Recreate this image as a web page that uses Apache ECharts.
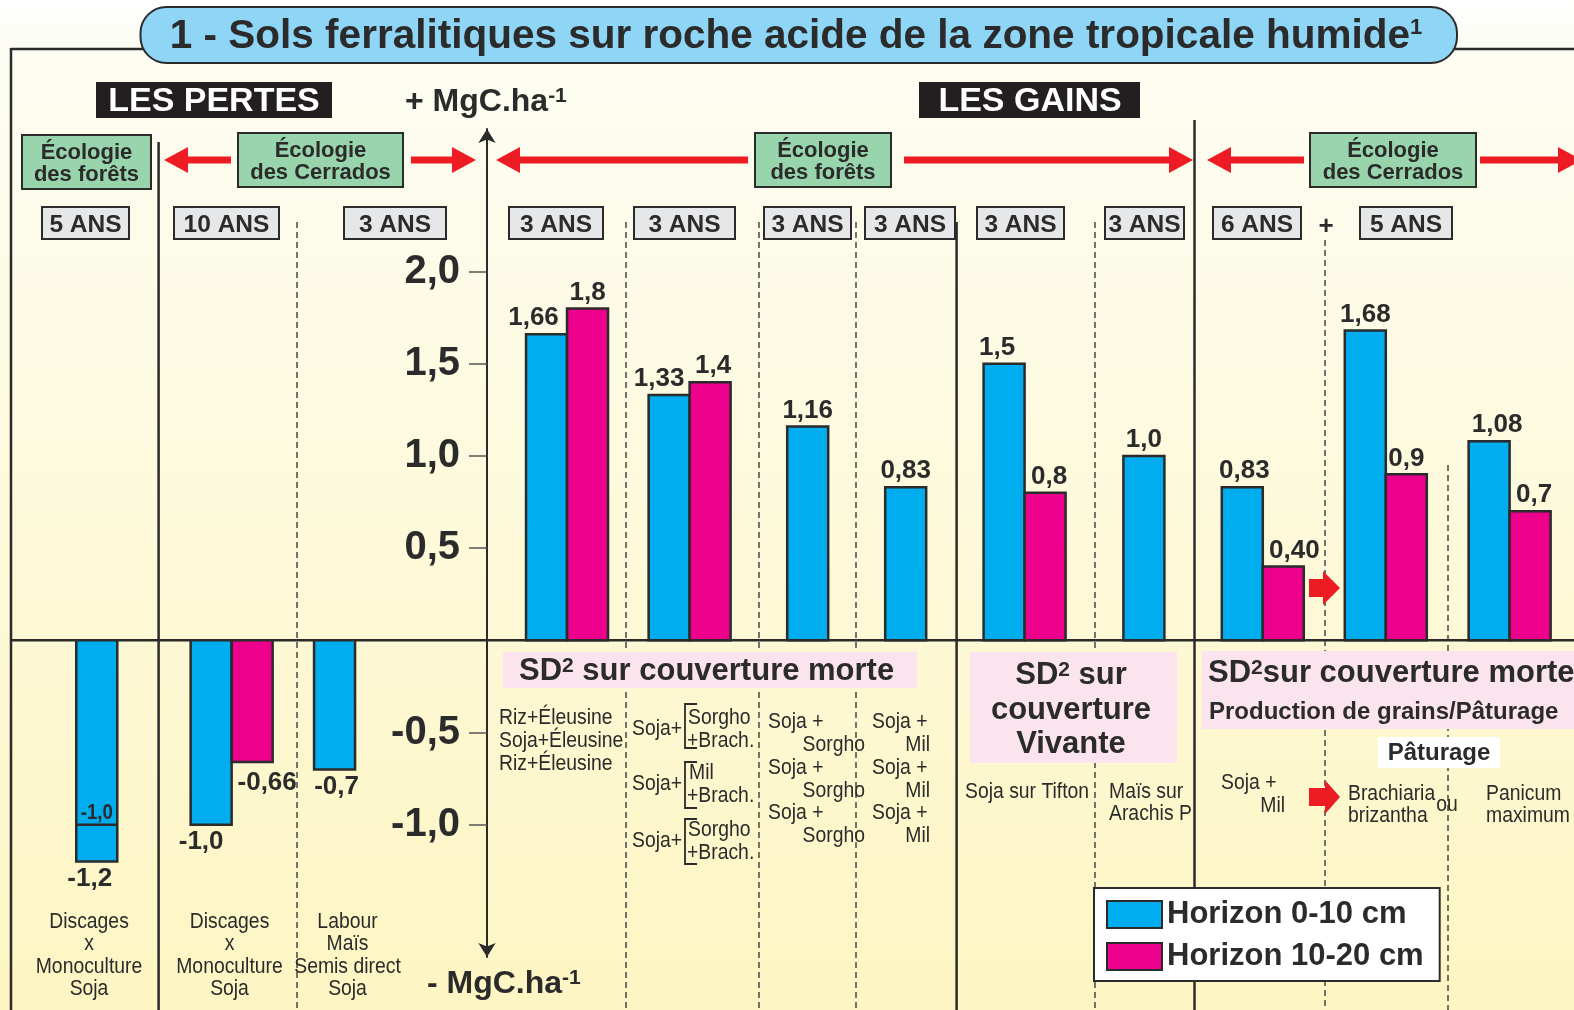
<!DOCTYPE html>
<html>
<head>
<meta charset="utf-8">
<script src="https://cdn.jsdelivr.net/npm/echarts@6/dist/echarts.min.js"></script>
<style>
html, body { margin: 0; padding: 0; background: #fff; }
#chart { width: 1574px; height: 1010px; }
</style>
</head>
<body>
<div id="chart"></div>
<script>
// --- data (MgC/ha, stock variation) ---
const treatments = ['Discages x Monoculture Soja (5 ans)', 'Discages x Monoculture Soja (10 ans)',
  'Labour Maïs Semis direct Soja', 'Riz+Éleusine', 'Soja+Sorgho/Mil+Brach.', 'Soja + Sorgho',
  'Soja + Mil', 'Soja sur Tifton', 'Maïs sur Arachis P', 'Soja + Mil (6 ans)',
  'Brachiaria brizantha', 'Panicum maximum']
const horizon1 = [-1.2, -1.0, -0.7, 1.66, 1.33, 1.16, 0.83, 1.5, 1.0, 0.83, 1.68, 1.08]
const horizon2 = [null, -0.66, null, 1.8, 1.4, null, null, 0.8, null, 0.40, 0.9, 0.7]
const labels1 = ['-1,2', '-1,0', '-0,7', '1,66', '1,33', '1,16', '0,83', '1,5', '1,0', '0,83', '1,68', '1,08']
const labels2 = ['', '-0,66', '', '1,8', '1,4', '', '', '0,8', '', '0,40', '0,9', '0,7']
const innerMark = [-1.0, null, null, null, null, null, null, null, null, null, null, null]
const yTicks = [-1, -0.5, 0.5, 1, 1.5, 2]

// --- layout: where each treatment sits on the hidden x axis (unit = one bar width) ---
const slotLeft = [1.86, 4.65, 7.66, 12.83, 15.82, 19.2, 21.59, 23.99, 27.4, 29.8, 32.8, 35.82]
// small sideways nudges of the value labels (px), as in the original drawing
const labelDx1 = [-7, -10, 2, -13, -10, 0, 0, -7, 0, 2, 0, 8]
const labelDx2 = [0, 15, 0, 0, 3, 0, 0, 4, 0, 11, 0, 4]
const BAR_PX = 41
const ZERO_Y = 640.3, PX_PER_UNIT = 184.4

const FF = '"Liberation Sans", Arial, Helvetica, sans-serif'
const INK = '#2b2b2b'
const BLUE = '#00adee', PINK = '#ec008c', RED = '#ed1c24'
const bold = s => 'bold ' + s + 'px ' + FF

function txt(x, y, text, size, o) {
  o = o || {}
  return {
    type: 'text', x: x, y: y, z: 60, silent: true, scaleX: o.sx || 1,
    style: {
      text: text, fill: o.fill || INK, font: (o.light ? '' : 'bold ') + size + 'px ' + FF,
      align: o.align || 'center', verticalAlign: o.va || 'middle', lineHeight: o.lh,
      rich: o.rich
    }
  }
}
function nar(x, y, text, align, lh) {
  return txt(x, y, text, 22, {light: true, sx: 0.88, align: align || 'center', lh: lh || 22.4})
}
function box(x1, y1, x2, y2, fill, stroke, r) {
  return {
    type: 'rect', z: 55, silent: true,
    shape: {x: x1, y: y1, width: x2 - x1, height: y2 - y1, r: r || 0},
    style: {fill: fill, stroke: stroke || null, lineWidth: stroke ? 2 : 0}
  }
}
function vline(x, y1, y2, dashed) {
  return {
    type: 'line', z: 5, silent: true, shape: {x1: x, y1: y1, x2: x, y2: y2},
    style: dashed ? {stroke: '#3a3a3a', lineWidth: 1.4, lineDash: [6, 4]} : {stroke: INK, lineWidth: 2.5}
  }
}
function arrow(tail, tip, y) {
  const d = tip > tail ? 1 : -1, hl = 24, sh = 3.5, hh = 13
  const b = tip - d * hl
  return {
    type: 'polygon', z: 55, silent: true,
    shape: {points: [[tail, y - sh], [b, y - sh], [b, y - hh], [tip, y], [b, y + hh], [b, y + sh], [tail, y + sh]]},
    style: {fill: RED}
  }
}
function block(x0, xh, x1, cy) {
  return {
    type: 'polygon', z: 55, silent: true,
    shape: {points: [[x0, cy - 9], [xh, cy - 9], [xh, cy - 17], [x1, cy], [xh, cy + 17], [xh, cy + 9], [x0, cy + 9]]},
    style: {fill: RED}
  }
}
function bracket(top, bottom) {
  return {
    type: 'polyline', z: 60, silent: true,
    shape: {points: [[697, top], [685, top], [685, bottom], [697, bottom]]},
    style: {stroke: INK, lineWidth: 1.8, fill: null}
  }
}
const supRich = function (size, supSize) {
  return {
    a: {fontSize: size, fontWeight: 'bold', fontFamily: FF, color: INK},
    s: {fontSize: supSize, fontWeight: 'bold', fontFamily: FF, color: INK, verticalAlign: 'top'}
  }
}

function barSeries(name, values, labels, dx, color, shift) {
  return {
    type: 'custom', name: name, xAxisIndex: 0, yAxisIndex: 0, z: 10,
    itemStyle: {color: color, borderColor: INK, borderWidth: 2},
    data: values.map((v, i) => [slotLeft[i] + shift, v == null ? 0 : v]),
    renderItem: function (params, api) {
      const i = params.dataIndex
      const v = values[i]
      if (v == null) return null
      const x0 = api.value(0)
      const a = api.coord([x0, 0]), b = api.coord([x0 + 1, v])
      const top = Math.min(a[1], b[1]), cx = (a[0] + b[0]) / 2
      const kids = [{
        type: 'rect',
        shape: {x: a[0], y: top, width: b[0] - a[0], height: Math.abs(b[1] - a[1])},
        style: {fill: color, stroke: INK, lineWidth: 2.5}
      }, {
        type: 'text',
        style: {
          text: labels[i], x: cx + dx[i], y: v >= 0 ? b[1] - 3 : b[1] + (dx[i] > 10 ? 8 : 4), align: 'center',
          verticalAlign: v >= 0 ? 'bottom' : 'top', font: bold(26), fill: INK
        }
      }]
      if (shift === 0 && innerMark[i] != null) {
        const m = api.coord([x0, innerMark[i]])
        kids.push({type: 'line', shape: {x1: a[0], y1: m[1], x2: b[0], y2: m[1]}, style: {stroke: INK, lineWidth: 2.5}})
        kids.push({
          type: 'text', x: cx, y: m[1] - 1, scaleX: 0.85,
          style: {text: labels1[1], align: 'center', verticalAlign: 'bottom', font: bold(22), fill: INK}
        })
      }
      return {type: 'group', children: kids}
    }
  }
}

const graphics = [
  // frame
  {type: 'line', z: 5, silent: true, shape: {x1: 11, y1: 49, x2: 1574, y2: 49}, style: {stroke: INK, lineWidth: 2.5}},
  vline(11, 48, 1010),
  {type: 'line', z: 8, silent: true, shape: {x1: 11, y1: ZERO_Y, x2: 1574, y2: ZERO_Y}, style: {stroke: INK, lineWidth: 2.5}},
  // column separators
  vline(158.6, 142, 1010), vline(956.6, 222, 1010), vline(1194.5, 120, 1010),
  vline(297, 222, 1010, true), vline(626, 222, 1010, true), vline(759, 222, 1010, true),
  vline(856, 222, 1010, true), vline(1095, 222, 1010, true), vline(1325, 240, 1010, true),
  vline(1448, 465, 1010, true),
  // title
  box(140.5, 7, 1457, 63, '#8ed5f6', INK, 26),
  txt(796, 37, '{a|1 - Sols ferralitiques sur roche acide de la zone tropicale humide}{s|1}', 40, {rich: supRich(40.5, 22)}),
  // headers
  box(96, 82, 332, 118, '#231f20'), txt(214, 101.5, 'LES PERTES', 34, {fill: '#fff'}),
  box(919, 82, 1140, 118, '#231f20'), txt(1030, 101.5, 'LES GAINS', 34, {fill: '#fff'}),
  txt(405, 102, '{a|+ MgC.ha}{s|-1}', 32, {align: 'left', rich: supRich(32, 21)}),
  txt(427, 984, '{a|- MgC.ha}{s|-1}', 32, {align: 'left', rich: supRich(32, 21)}),
  // ecology boxes and arrows
  box(22, 135, 151, 189, '#98d4ac', INK), txt(86.5, 164, 'Écologie\ndes forêts', 22, {lh: 22.5}),
  box(238, 133, 403, 187, '#98d4ac', INK), txt(320.5, 162, 'Écologie\ndes Cerrados', 22, {lh: 22.5}),
  box(755, 133, 891, 187, '#98d4ac', INK), txt(823, 162, 'Écologie\ndes forêts', 22, {lh: 22.5}),
  box(1310, 133, 1476, 187, '#98d4ac', INK), txt(1393, 162, 'Écologie\ndes Cerrados', 22, {lh: 22.5}),
  arrow(231, 164, 160), arrow(411, 476, 160), arrow(748, 496, 160),
  arrow(904, 1193, 160), arrow(1304, 1207, 160), arrow(1480, 1582, 160),
  txt(1326, 227, '+', 26)
]
// duration boxes
;[[42, 129, '5 ANS'], [174, 279, '10 ANS'], [344, 446, '3 ANS'], [509, 603, '3 ANS'], [634, 735, '3 ANS'],
  [764, 851, '3 ANS'], [865, 955, '3 ANS'], [977, 1064, '3 ANS'], [1105, 1184, '3 ANS'],
  [1213, 1301, '6 ANS'], [1360, 1452, '5 ANS']].forEach(b => {
  graphics.push(box(b[0], 207, b[1], 239, '#e6e7e9', INK))
  graphics.push(txt((b[0] + b[1]) / 2, 225, b[2], 24.5))
})
// treatment texts
graphics.push(
  nar(89, 955.5, 'Discages\nx\nMonoculture\nSoja'),
  nar(229.5, 955.5, 'Discages\nx\nMonoculture\nSoja'),
  nar(347.5, 955.5, 'Labour\nMaïs\nSemis direct\nSoja'),
  box(503, 652, 917, 688, '#fce4ef'),
  txt(519, 671.5, '{a|SD}{s|2}{a| sur couverture morte}', 31, {align: 'left', rich: supRich(31, 21)}),
  box(970, 652, 1177, 763, '#fce4ef'),
  txt(1071, 675, '{a|SD}{s|2}{a| sur}', 31, {rich: supRich(31, 21)}),
  txt(1071, 710, 'couverture', 31), txt(1071, 744, 'Vivante', 31),
  box(1202, 651, 1574, 729, '#fce4ef'),
  txt(1208, 673, '{a|SD}{s|2}{a|sur couverture morte}', 31, {align: 'left', rich: supRich(31, 21)}),
  txt(1209, 712, 'Production de grains/Pâturage', 24, {align: 'left'}),
  box(1378, 737, 1500, 768, '#ffffff'), txt(1439, 753, 'Pâturage', 24),
  nar(499, 741, 'Riz+Éleusine\nSoja+Éleusine\nRiz+Éleusine', 'left', 23),
  nar(632, 729, 'Soja+', 'left'), nar(688, 718, 'Sorgho', 'left'), nar(687, 741, '+Brach.', 'left'), bracket(704, 748),
  nar(632, 784, 'Soja+', 'left'), nar(689, 773, 'Mil', 'left'), nar(687, 796, '+Brach.', 'left'), bracket(762, 808),
  nar(632, 841, 'Soja+', 'left'), nar(688, 830, 'Sorgho', 'left'), nar(687, 853, '+Brach.', 'left'), bracket(819, 864),
  nar(965, 792, 'Soja sur Tifton', 'left'),
  nar(1109, 803, 'Maïs sur\nArachis P', 'left'),
  nar(1221, 783, 'Soja +', 'left'), nar(1285, 806, 'Mil', 'right'),
  block(1309, 1325, 1340, 797), block(1309, 1323, 1340, 588),
  nar(1348, 805, 'Brachiaria\nbrizantha', 'left'),
  nar(1447, 805, 'ou', 'center'),
  nar(1486, 805, 'Panicum\nmaximum', 'left')
)
for (let k = 0; k < 3; k++) {
  graphics.push(nar(768, 722 + 45.5 * k, 'Soja +', 'left'), nar(865, 745 + 45.5 * k, 'Sorgho', 'right'))
  graphics.push(nar(872, 722 + 45.5 * k, 'Soja +', 'left'), nar(930, 745 + 45.5 * k, 'Mil', 'right'))
}

const chart = echarts.init(document.getElementById('chart'), null, {renderer: 'canvas'})
chart.setOption({
  animation: false,
  backgroundColor: new echarts.graphic.LinearGradient(0, 0, 0, 1, [
    {offset: 0, color: '#ffffff'}, {offset: 0.05, color: '#fdfdf3'},
    {offset: 0.55, color: '#fdf9d9'}, {offset: 1, color: '#fdf5c2'}
  ]),
  grid: [
    {left: 0, right: 0, top: 0, bottom: 0},
    {left: 487, width: 1, top: 129, bottom: 53}
  ],
  xAxis: [
    {gridIndex: 0, type: 'value', min: 0, max: 1574 / BAR_PX, show: false},
    {gridIndex: 1, type: 'value', min: 0, max: 1, show: false}
  ],
  yAxis: [
    {gridIndex: 0, type: 'value', min: -(1010 - ZERO_Y) / PX_PER_UNIT, max: ZERO_Y / PX_PER_UNIT, show: false},
    {
      gridIndex: 1, type: 'value', position: 'left',
      min: -(957 - ZERO_Y) / PX_PER_UNIT, max: (ZERO_Y - 129) / PX_PER_UNIT,
      splitLine: {show: false},
      axisLine: {show: true, symbol: ['arrow', 'arrow'], symbolSize: [13, 14], lineStyle: {color: INK, width: 2}},
      axisTick: {show: true, length: 18, customValues: yTicks, lineStyle: {color: '#555', width: 1.5}},
      axisLabel: {
        customValues: yTicks, margin: 27, color: INK, fontSize: 40, fontWeight: 'bold', fontFamily: FF,
        padding: [5, 0, 0, 0],
        formatter: v => v.toFixed(1).replace('.', ',')
      }
    }
  ],
  legend: {
    data: ['Horizon 0-10 cm', 'Horizon 10-20 cm'], orient: 'vertical', left: 1094, top: 888,
    itemWidth: 55, itemHeight: 27, itemGap: 11, padding: [11, 16, 9, 12], icon: 'rect',
    backgroundColor: '#fff', borderColor: INK, borderWidth: 2, selectedMode: false, z: 70,
    itemStyle: {borderColor: INK, borderWidth: 2},
    textStyle: {fontSize: 31, fontWeight: 'bold', color: INK, fontFamily: FF, lineHeight: 27}
  },
  series: [
    barSeries('Horizon 0-10 cm', horizon1, labels1, labelDx1, BLUE, 0),
    barSeries('Horizon 10-20 cm', horizon2, labels2, labelDx2, PINK, 1),
    {type: 'line', xAxisIndex: 1, yAxisIndex: 1, data: [], silent: true}
  ],
  graphic: {elements: graphics}
})
</script>
</body>
</html>
